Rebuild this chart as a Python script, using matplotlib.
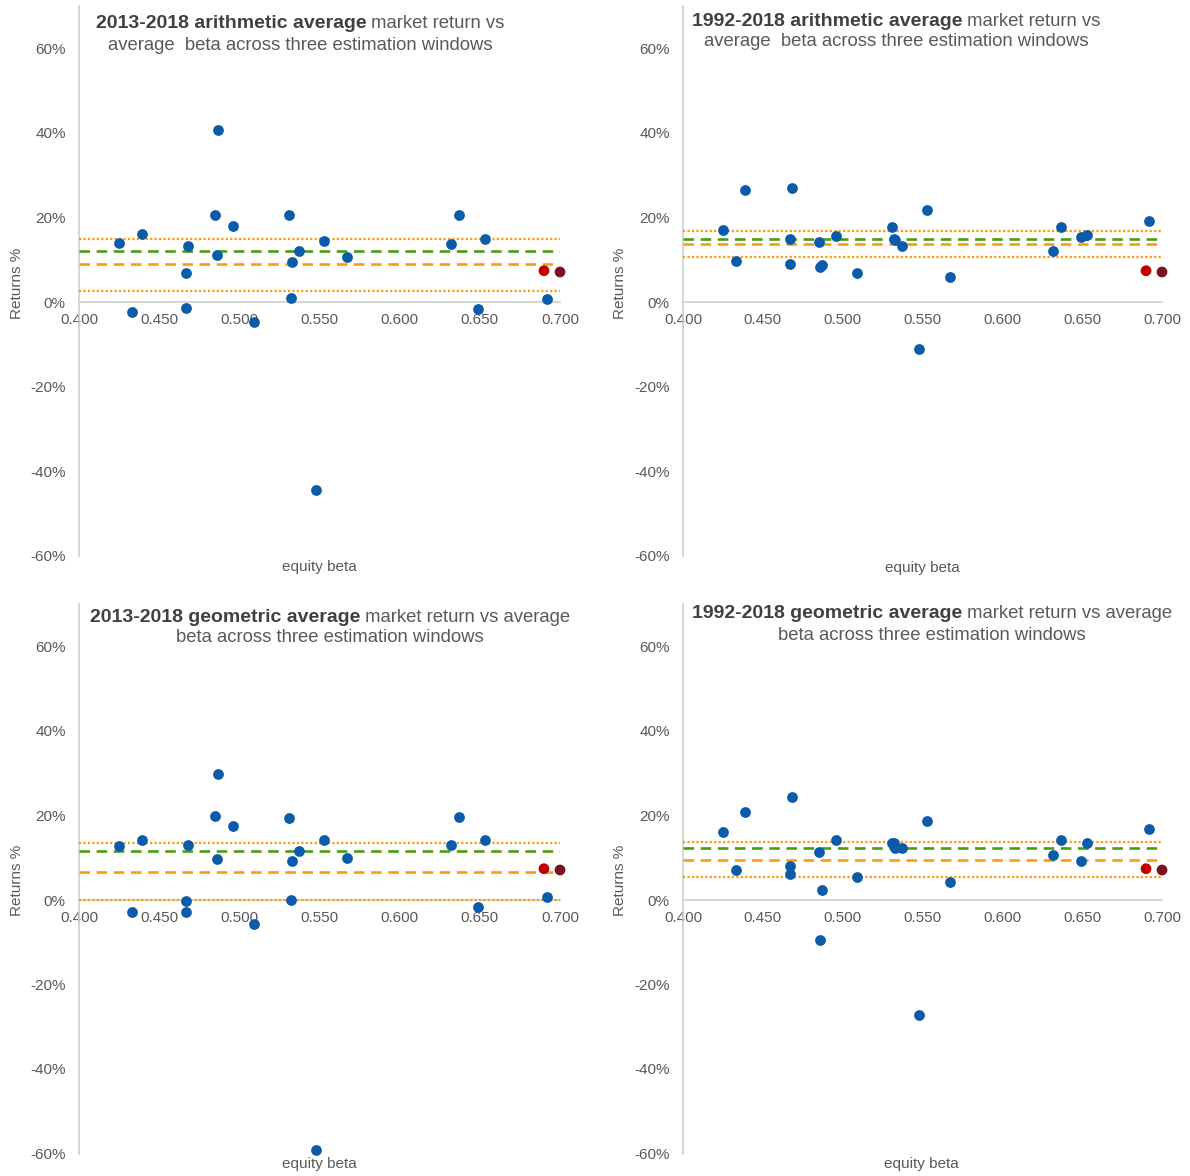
import matplotlib
matplotlib.use("Agg")
import matplotlib.pyplot as plt
from matplotlib.ticker import FuncFormatter, FixedLocator

plt.rcParams['font.family'] = ['Liberation Sans', 'DejaVu Sans']

# Average equity beta of each company (shared by all four panels)
beta = [0.425, 0.433, 0.439, 0.467, 0.467, 0.468, 0.485, 0.486, 0.487, 0.496,
        0.509, 0.531, 0.532, 0.533, 0.537, 0.548, 0.553, 0.567, 0.632, 0.637,
        0.649, 0.653, 0.692]

# Market returns (%) per panel
ret_arith_2013 = [13.9, -2.4, 16.0, -1.4, 6.9, 13.3, 20.6, 11.2, 40.7, 17.9,
                  -4.7, 20.5, 1.0, 9.4, 12.1, -44.4, 14.4, 10.6, 13.7, 20.6,
                  -1.7, 14.9, 0.6]
ret_arith_1992 = [17.1, 9.8, 26.6, 14.9, 8.9, 27.0, 14.2, 8.3, 8.8, 15.6,
                  6.9, 17.7, 15.0, 14.7, 13.2, -11.1, 21.7, 6.0, 12.0, 17.7,
                  15.3, 15.9, 19.2]
ret_geo_2013 = [12.7, -2.8, 14.3, -0.2, -2.8, 12.9, 19.9, 9.7, 29.9, 17.4,
                -5.6, 19.3, 0.0, 9.3, 11.6, -59.2, 14.1, 9.9, 13.0, 19.7,
                -1.7, 14.1, 0.7]
ret_geo_1992 = [16.0, 7.1, 20.9, 8.1, 6.1, 24.3, 11.4, -9.5, 2.4, 14.2,
                5.4, 13.6, 13.4, 12.4, 12.4, -27.3, 18.7, 4.2, 10.7, 14.2,
                9.2, 13.5, 16.8]

# Highlighted points (same in every panel)
hl_beta = [0.690, 0.700]
hl_ret = [7.4, 7.1]
hl_colors = ['#C00000', '#7B1020']

# Reference levels (%): upper dotted, green dashed, orange dashed, lower dotted
levels_arith_2013 = [15.0, 12.1, 8.9, 2.7]
levels_arith_1992 = [16.8, 15.0, 13.8, 10.7]
levels_geo_2013 = [13.5, 11.6, 6.7, 0.0]
levels_geo_1992 = [13.7, 12.4, 9.5, 5.4]

titles_bold = ["2013-2018 arithmetic average", "1992-2018 arithmetic average",
               "2013-2018 geometric average", "1992-2018 geometric average"]
titles_rest1 = [" market return vs", " market return vs",
                " market return vs average", " market return vs average"]
titles_line2 = ["average  beta across three estimation windows",
                "average  beta across three estimation windows",
                "beta across three estimation windows",
                "beta across three estimation windows"]

y_ticks = [-60, -40, -20, 0, 20, 40, 60]
x_ticks = [0.400, 0.450, 0.500, 0.550, 0.600, 0.650, 0.700]

W, H = 1190, 1176
fig = plt.figure(figsize=(W / 100, H / 100), dpi=100)

BLUE = '#0A5BAA'
GREEN = '#4A9E12'
ORANGE = '#FF9A0E'
GREY_TXT = '#595959'
AXIS_GREY = '#D0D0D0'

# panel geometry in pixels: left, right, y of 0%
panels = [
    dict(l=79, r=560, y0=302, ret=ret_arith_2013, lev=levels_arith_2013,
         tcx=300, t1=24, t2=45, ylab=(17, 283), xlab=(319, 567)),
    dict(l=683, r=1162, y0=302, ret=ret_arith_1992, lev=levels_arith_1992,
         tcx=896, t1=21, t2=42, ylab=(620, 283), xlab=(922, 568)),
    dict(l=79, r=560, y0=900, ret=ret_geo_2013, lev=levels_geo_2013,
         tcx=330, t1=617, t2=638, ylab=(17, 880), xlab=(319, 1164)),
    dict(l=683, r=1162, y0=900, ret=ret_geo_1992, lev=levels_geo_1992,
         tcx=932, t1=614, t2=635, ylab=(620, 880), xlab=(921, 1164)),
]
PX_PER_PCT = 84.5 / 20
YMIN, YMAX = -60, 70

for i, p in enumerate(panels):
    top = p['y0'] - YMAX * PX_PER_PCT
    bot = p['y0'] - YMIN * PX_PER_PCT
    ax = fig.add_axes([p['l'] / W, 1 - bot / H, (p['r'] - p['l']) / W, (bot - top) / H])
    ax.set_xlim(0.4, 0.7)
    ax.set_ylim(YMIN, YMAX)
    for s in ['top', 'right']:
        ax.spines[s].set_visible(False)
    ax.spines['left'].set_color(AXIS_GREY)
    ax.spines['left'].set_linewidth(1.2)
    ax.spines['left'].set_bounds(YMIN, YMAX)
    ax.spines['bottom'].set_position(('data', 0))
    ax.spines['bottom'].set_color(AXIS_GREY)
    ax.spines['bottom'].set_linewidth(1.2)
    ax.xaxis.set_major_locator(FixedLocator(x_ticks))
    ax.xaxis.set_major_formatter(FuncFormatter(lambda v, _: f"{v:.3f}"))
    ax.yaxis.set_major_locator(FixedLocator(y_ticks))
    ax.yaxis.set_major_formatter(FuncFormatter(lambda v, _: f"{v:.0f}%"))
    ax.tick_params(axis='both', length=0, labelsize=11, labelcolor=GREY_TXT)
    ax.tick_params(axis='y', pad=9.5)
    ax.tick_params(axis='x', pad=8)

    up, green, orange, low = p['lev']
    ax.hlines(up, 0.4, 0.7, colors=ORANGE, linestyles=(0, (1, 1)), linewidth=1.6, zorder=2.6)
    ax.hlines(low, 0.4, 0.7, colors=ORANGE, linestyles=(0, (1, 1)), linewidth=1.6, zorder=2.6)
    ax.hlines(green, 0.4, 0.7, colors=GREEN, linestyles=(0, (4, 2.5)), linewidth=1.9, zorder=2.6)
    ax.hlines(orange, 0.4, 0.7, colors=ORANGE, linestyles=(0, (4, 2.5)), linewidth=1.9, zorder=2.6)

    ax.scatter(beta, p['ret'], s=60, color=BLUE, zorder=3, clip_on=False, linewidths=0)
    ax.scatter(hl_beta, hl_ret, s=60, c=hl_colors, zorder=3, clip_on=False, linewidths=0)

    fig.text(p['ylab'][0] / W, 1 - p['ylab'][1] / H, "Returns %", rotation=90,
             ha='center', va='center', fontsize=11, color=GREY_TXT)
    fig.text(p['xlab'][0] / W, 1 - p['xlab'][1] / H, "equity beta",
             ha='center', va='center', fontsize=11, color=GREY_TXT)

# two-tone titles: bold lead-in followed by regular text, centred as one line
renderer = fig.canvas.get_renderer()
TSIZE = 13.3
for i, p in enumerate(panels):
    tb = fig.text(0, 0, titles_bold[i], fontsize=14, fontweight='bold',
                  color='#404040', ha='left', va='center')
    tr = fig.text(0, 0, titles_rest1[i], fontsize=TSIZE, color=GREY_TXT,
                  ha='left', va='center')
    wb = tb.get_window_extent(renderer).width
    wr = tr.get_window_extent(renderer).width
    x0 = p['tcx'] - (wb + wr) / 2
    yy = 1 - p['t1'] / H
    tb.set_position((x0 / W, yy))
    tr.set_position(((x0 + wb) / W, yy))
    fig.text(p['tcx'] / W, 1 - p['t2'] / H, titles_line2[i], fontsize=TSIZE,
             color=GREY_TXT, ha='center', va='center')

fig.savefig("out.png", dpi=100, facecolor='white')
